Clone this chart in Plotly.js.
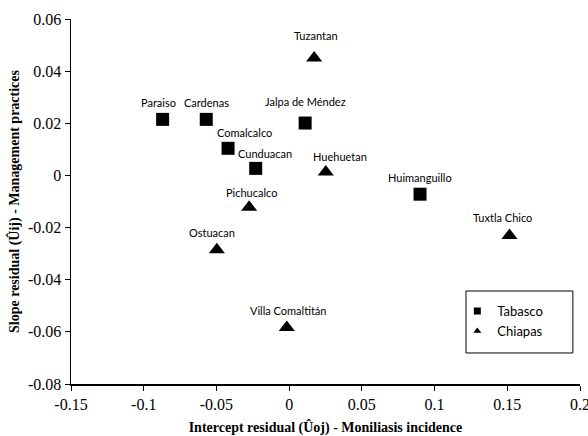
<!DOCTYPE html>
<html>
<head>
<meta charset="utf-8">
<script src="https://cdn.plot.ly/plotly-3.0.1.min.js"></script>
<style>html,body{margin:0;padding:0;background:#fff;}#chart{width:588px;height:436px;}</style>
</head>
<body>
<div id="chart"></div>
<script>
const tabascoNames = ["Paraiso", "Cardenas", "Comalcalco", "Cunduacan", "Jalpa de Méndez", "Huimanguillo"];
const tabascoX = [-0.087, -0.057, -0.042, -0.023, 0.011, 0.090];
const tabascoY = [0.0215, 0.0215, 0.0104, 0.0027, 0.0201, -0.0072];

const chiapasNames = ["Tuzantan", "Huehuetan", "Pichucalco", "Ostuacan", "Villa Comaltitán", "Tuxtla Chico"];
const chiapasX = [0.0172, 0.0252, -0.0275, -0.0497, -0.0016, 0.1515];
const chiapasY = [0.045, 0.0013, -0.0122, -0.0285, -0.0583, -0.023];

const xTicks = [-0.15, -0.1, -0.05, 0, 0.05, 0.1, 0.15, 0.2];
const xTickText = ["-0.15", "-0.1", "-0.05", "0", "0.05", "0.1", "0.15", "0.2"];
const yTicks = [-0.08, -0.06, -0.04, -0.02, 0, 0.02, 0.04, 0.06];
const yTickText = ["-0.08", "-0.06", "-0.04", "-0.02", "0", "0.02", "0.04", "0.06"];

// label placement offsets (pixels, style only)
const tabascoLabelDx = [-4, 0, 16, 9, 0, 0];
const tabascoLabelDy = [17, 17, 16, 15, 22, 17];
const chiapasLabelDx = [2, 14, 2, -5, 1, -7];
const chiapasLabelDy = [23, 16, 15, 17, 17, 18];

const labelFont = {family: "Lato, 'Open Sans', sans-serif", size: 11, color: "#000"};

function labels(names, xs, ys, dxs, dys) {
  return names.map((n, i) => ({
    x: xs[i], y: ys[i], xref: "x", yref: "y", text: n, showarrow: false,
    xanchor: "center", yanchor: "middle", xshift: dxs[i], yshift: dys[i], font: labelFont
  }));
}

const traces = [
  {
    type: "scatter", mode: "markers", x: tabascoX, y: tabascoY,
    marker: {symbol: "square", size: 13, color: "#000"},
    showlegend: false, cliponaxis: false, hoverinfo: "skip"
  },
  {
    type: "scatter", mode: "markers", x: chiapasX, y: chiapasY,
    marker: {symbol: "triangle-up", size: 14, color: "#000"},
    showlegend: false, cliponaxis: false, hoverinfo: "skip"
  },
  {
    type: "scatter", mode: "markers", x: [null], y: [null], name: "Tabasco",
    marker: {symbol: "square", size: 7, color: "#000"}, showlegend: true
  },
  {
    type: "scatter", mode: "markers", x: [null], y: [null], name: "Chiapas",
    marker: {symbol: "triangle-up", size: 7, color: "#000"}, showlegend: true
  }
];

const axisFont = {family: "'Liberation Serif', 'Times New Roman', serif", size: 16, color: "#000"};
const titleFont = {family: "'Liberation Serif', 'Times New Roman', serif", size: 14, color: "#000", weight: "bold"};

const layout = {
  width: 588, height: 436,
  margin: {l: 71, r: 8, t: 19, b: 52},
  paper_bgcolor: "#fff", plot_bgcolor: "#fff",
  showlegend: true,
  annotations: labels(tabascoNames, tabascoX, tabascoY, tabascoLabelDx, tabascoLabelDy)
    .concat(labels(chiapasNames, chiapasX, chiapasY, chiapasLabelDx, chiapasLabelDy)),
  legend: {
    x: 0.759, y: 0.241, xanchor: "left", yanchor: "top",
    borderwidth: 0, bgcolor: "rgba(0,0,0,0)",
    font: {family: "Lato, 'Open Sans', sans-serif", size: 13, color: "#000"},
    traceorder: "normal", itemwidth: 30
  },
  shapes: [{
    type: "rect", xref: "paper", yref: "paper",
    x0: 0.776, x1: 0.986, y0: 0.085, y1: 0.2548,
    line: {color: "#000", width: 1}, fillcolor: "rgba(0,0,0,0)", layer: "below"
  }],
  xaxis: {
    range: [-0.15, 0.2], tickvals: xTicks, ticktext: xTickText, ticklabeloverflow: "allow",
    showgrid: false, zeroline: false, showline: true, linecolor: "#000", linewidth: 1.5,
    ticks: "outside", ticklen: 5, tickcolor: "#000", tickfont: axisFont,
    title: {text: "Intercept residual (Ûoj) - Moniliasis incidence", font: titleFont, standoff: 10}
  },
  yaxis: {
    range: [-0.08, 0.06], tickvals: yTicks, ticktext: yTickText, ticklabeloverflow: "allow",
    showgrid: false, zeroline: false, showline: true, linecolor: "#000", linewidth: 1.5,
    ticks: "outside", ticklen: 5, tickcolor: "#000", tickfont: axisFont,
    title: {text: "Slope residual (Ûij) - Management practices", font: titleFont, standoff: 5}
  }
};

Plotly.newPlot("chart", traces, layout, {displayModeBar: false, staticPlot: true});
</script>
</body>
</html>
